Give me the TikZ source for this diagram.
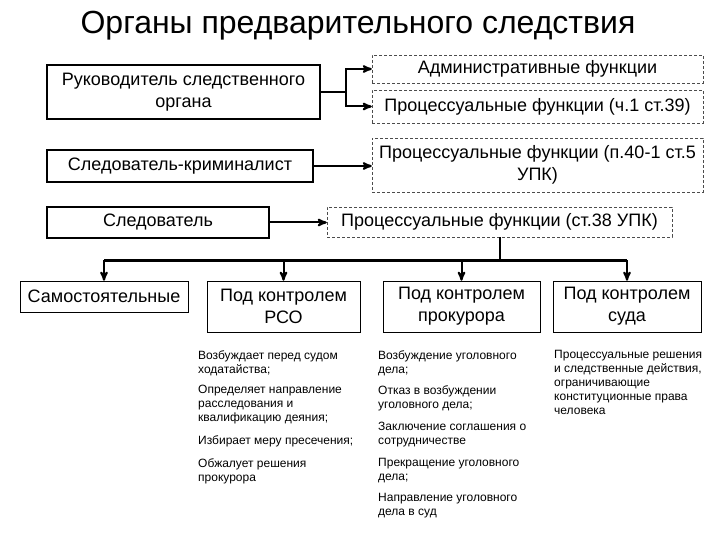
\documentclass[tikz,border=0pt]{standalone}
\usepackage{fontspec}
\setmainfont{Liberation Sans}
\usepackage{tikz}
\usetikzlibrary{arrows,positioning}
\tikzset{
    %Define standard arrow tip
    >=stealth',
    %Define style for boxes
    organ/.style={
           rectangle,
           draw=black, line width=2.2pt,
           font=\fontsize{18}{22}\selectfont,
           inner sep=0pt,
           align=center},
    func/.style={
           rectangle,
           draw=black!70, thin, dash pattern=on 3pt off 2pt,
           font=\fontsize{18}{22}\selectfont,
           inner sep=0pt,
           align=center},
    kind/.style={
           rectangle,
           draw=black, semithick,
           minimum height=51pt,
           font=\fontsize{18}{22}\selectfont,
           inner sep=0pt,
           align=center},
    item/.style={
           anchor=north west,
           inner sep=0pt,
           align=left,
           font=\fontsize{12}{14}\selectfont},
    % Define arrow style
    pil/.style={
           ->,
           line width=2pt},
}

\begin{document}
\begin{tikzpicture}[x=1pt,y=-1pt]
\useasboundingbox (0,0) rectangle (720,540);
\node[font=\fontsize{32}{36}\selectfont] (title) at (358,26) {Органы предварительного следствия};
% left column
\node[organ, minimum width=273pt, minimum height=54pt](ruk) at (183.5,92) {Руководитель следственного\\органа};
\node[organ, minimum width=266pt, minimum height=32pt](krim) at (180,166) {Следователь-криминалист};
\node[organ, minimum width=222pt, minimum height=31pt](sled) at (158,222.5) {Следователь};
% functions
\node[func, minimum width=331pt, minimum height=28pt](adm) at (537.5,69) {Административные функции};
\node[func, minimum width=331pt, minimum height=33pt](proc39) at (537.5,106.5) {Процессуальные функции (ч.1 ст.39)};
\node[func, minimum width=331pt, minimum height=54pt](proc40) at (537.5,165) {Процессуальные функции (п.40-1 ст.5\\УПК)};
\node[func, minimum width=345pt, minimum height=30pt](proc38) at (499.5,222) {Процессуальные функции (ст.38 УПК)};
% kinds
\node[kind, minimum width=168pt, minimum height=31pt](sam) at (104,296.5) {Самостоятельные};
\node[kind, minimum width=153pt](rso) at (283.5,306.5) {Под контролем\\РСО};
\node[kind, minimum width=157pt](prok) at (461.5,306.5) {Под контролем\\прокурора};
\node[kind, minimum width=148pt](suda) at (627,306.5) {Под контролем\\суда};
% lists
\node[item](rso1) at (198,350) {Возбуждает перед судом\\ходатайства;};
\node[item](rso2) at (198,385) {Определяет направление\\расследования и\\квалификацию деяния;};
\node[item](rso3) at (198,435) {Избирает меру пресечения;};
\node[item](rso4) at (198,458) {Обжалует решения\\прокурора};
\node[item](prok1) at (378,350) {Возбуждение уголовного\\дела;};
\node[item](prok2) at (378,385) {Отказ в возбуждении\\уголовного дела;};
\node[item](prok3) at (378,422) {Заключение соглашения о\\сотрудничестве};
\node[item](prok4) at (378,458) {Прекращение уголовного\\дела;};
\node[item](prok5) at (378,493) {Направление уголовного\\дела в суд};
\node[item](suda1) at (554,350) {Процессуальные решения\\и следственные действия,\\ограничивающие\\конституционные права\\человека};
% connectors
\coordinate (fork) at ([xshift=25pt]ruk.east);
\draw[line width=2pt] (ruk.east) -- (fork);
\draw[pil] (fork) |- (adm.west);
\draw[pil] (fork) |- (proc39.west);
\draw[pil] (krim.east) -- (krim.east -| proc40.west);
\draw[pil] (sled.east) -- (sled.east -| proc38.west);
\coordinate (bus) at (proc38.south |- 0,260);
\draw[line width=2pt] (proc38.south) -- (bus);
\draw[line width=3pt] (sam.north |- bus) -- (suda.north |- bus);
\foreach \k in {sam,rso,prok,suda}
    \draw[pil] (\k.north |- bus) -- (\k.north);
\end{tikzpicture}
\end{document}
